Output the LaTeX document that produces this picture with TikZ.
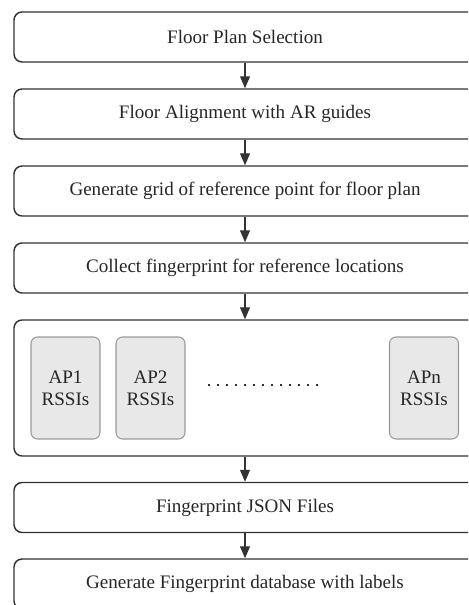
\documentclass[tikz,border=0pt]{standalone}
\usepackage{fontspec}
\setmainfont{Liberation Serif}
\usetikzlibrary{arrows.meta}
\definecolor{ink}{HTML}{333333}
\definecolor{txt}{HTML}{262626}
\definecolor{apfill}{HTML}{E8E8E8}
\definecolor{apline}{HTML}{9A9A9A}
\tikzset{
  stage/.style={draw=ink, line width=1.1pt, rounded corners=6pt, minimum width=346.5pt,
    minimum height=37.5pt, inner sep=0pt, text=txt, font=\fontsize{14.3}{16}\selectfont},
  apbox/.style={draw=apline, fill=apfill, line width=0.8pt, rounded corners=5pt,
    minimum width=51.75pt, minimum height=76.5pt, inner sep=0pt, align=center, text=txt,
    font=\fontsize{14.3}{16.5}\selectfont},
  flow/.style={draw=ink, line width=0.8pt, -{Triangle[width=7.5pt,length=9pt]}},
}
\begin{document}
\begin{tikzpicture}[x=0.75pt,y=-0.75pt]
\useasboundingbox (0,0) rectangle (468,605);
\clip (0,0) rectangle (468,605);
\node[stage] (b1) at (245,37) {Floor Plan Selection};
\node[stage] (b2) at (245,114) {Floor Alignment with AR guides};
\node[stage] (b3) at (245,191) {Generate grid of reference point for floor plan};
\node[stage] (b4) at (245,268) {Collect fingerprint for reference locations};
\node[stage, minimum height=102pt] (b5) at (245,388) {};
\node[stage] (b6) at (245,507.5) {Fingerprint JSON Files};
\node[stage] (b7) at (245,584) {Generate Fingerprint database with labels};
\node[apbox] (ap1) at (65.5,388) {AP1\\RSSIs};
\node[apbox] (ap2) at (150.5,388) {AP2\\RSSIs};
\node[apbox] (apn) at (424,388) {APn\\RSSIs};
\coordinate (d1) at (208,385);
\coordinate (d2) at (318,385);
\draw[ink, line width=1.5pt, dash pattern=on 1.4pt off 5.35pt] (d1) -- (d2);
\draw[flow] (b1) -- (b2);
\draw[flow] (b2) -- (b3);
\draw[flow] (b3) -- (b4);
\draw[flow] (b4) -- (b5);
\draw[flow] (b5) -- (b6);
\draw[flow] (b6) -- (b7);
\end{tikzpicture}
\end{document}
